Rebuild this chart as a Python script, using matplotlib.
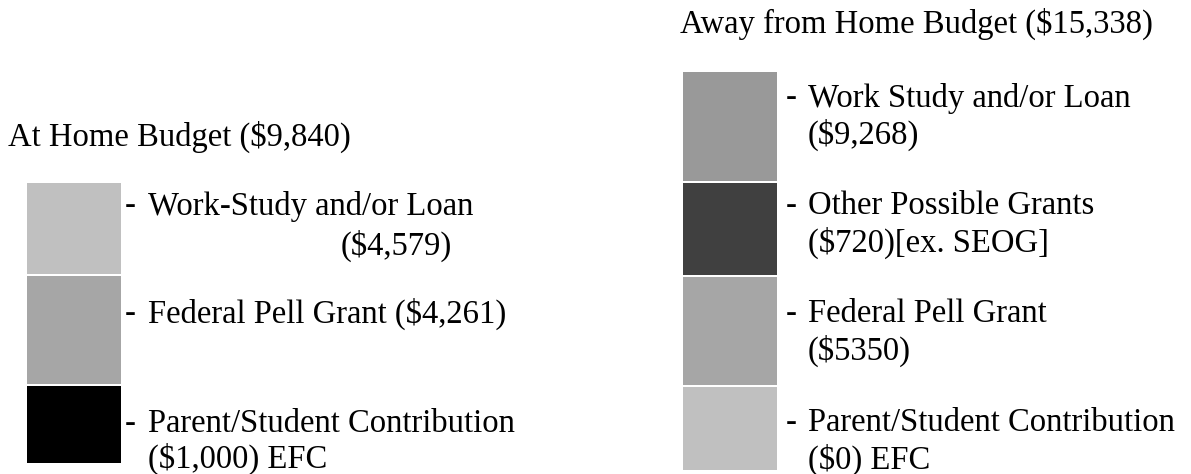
import matplotlib.pyplot as plt

# budget titles
titles = ["At Home Budget ($9,840)", "Away from Home Budget ($15,338)"]

# segments listed top to bottom
home_labels = ["Work-Study and/or Loan", "Federal Pell Grant ($4,261)",
               "Parent/Student Contribution"]
home_amounts = ["($4,579)", "", "($1,000) EFC"]
home_colors = ["#c0c0c0", "#a6a6a6", "#000000"]

away_labels = ["Work Study and/or Loan", "Other Possible Grants",
               "Federal Pell Grant", "Parent/Student Contribution"]
away_amounts = ["($9,268)", "($720)[ex. SEOG]", "($5350)", "($0) EFC"]
away_colors = ["#999999", "#404040", "#a6a6a6", "#c0c0c0"]

# layout (pixel coordinates)
home_x, away_x, box_w = 27, 683, 94
home_edges = [183, 276, 386, 465]
away_edges = [71.5, 182.5, 276.5, 386.5, 472]

plt.rcParams['font.family'] = ['Liberation Serif', 'DejaVu Serif']
fs = 23.5

fig = plt.figure(figsize=(11.91, 4.74), dpi=100)
ax = fig.add_axes([0, 0, 1, 1])
ax.set_xlim(0, 1191)
ax.set_ylim(474, 0)
ax.axis('off')


def draw_column(x0, edges, colors):
    tops = edges[:-1]
    heights = [edges[i + 1] - edges[i] - 2 for i in range(len(tops))]
    ax.bar([x0] * len(tops), heights, bottom=tops, width=box_w,
           color=colors, align='edge', linewidth=0)


draw_column(home_x, home_edges, home_colors)
draw_column(away_x, away_edges, away_colors)

ax.text(8, 137, titles[0], fontsize=fs, va='center', ha='left')
ax.text(680, 24, titles[1], fontsize=fs, va='center', ha='left')

# home labels
home_line1 = [206, 314, 424]
for i, lab in enumerate(home_labels):
    ax.text(125, home_line1[i], "-", fontsize=fs, va='center', ha='left')
    ax.text(148, home_line1[i], lab, fontsize=fs, va='center', ha='left')
ax.text(452, 246, home_amounts[0], fontsize=fs, va='center', ha='right')
ax.text(148, 459, home_amounts[2], fontsize=fs, va='center', ha='left')

# away labels
away_line1 = [98, 206, 314, 423]
for i, lab in enumerate(away_labels):
    ax.text(786, away_line1[i], "-", fontsize=fs, va='center', ha='left')
    ax.text(808, away_line1[i], lab, fontsize=fs, va='center', ha='left')
    ax.text(808, away_line1[i] + 37, away_amounts[i], fontsize=fs,
            va='center', ha='left')

fig.savefig('out.png', dpi=100)
